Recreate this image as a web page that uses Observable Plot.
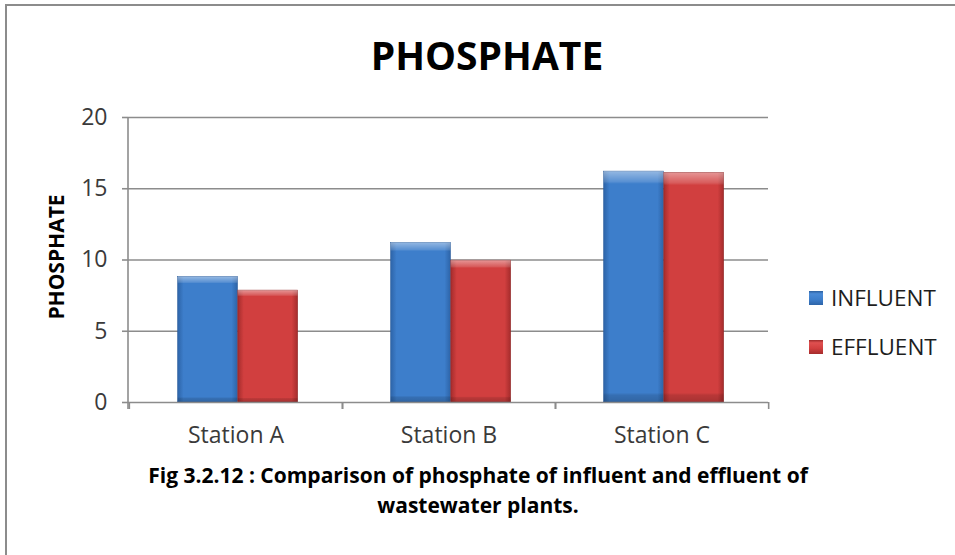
<!DOCTYPE html>
<html>
<head>
<meta charset="utf-8">
<script src="https://cdn.jsdelivr.net/npm/d3@7"></script>
<script src="https://cdn.jsdelivr.net/npm/@observablehq/plot@0.6"></script>
<style>
  body { margin: 0; background: #fff; overflow: hidden; }
  #wrap { position: relative; width: 955px; height: 555px; overflow: hidden; font-family: "Open Sans", sans-serif; color: #000; }
  #border { position: absolute; left: 5px; top: 4px; width: 1000px; height: 600px; border: 2px solid #8c8c8c; box-sizing: border-box; }
  #chart { position: absolute; left: 0; top: 0; }
  .txt { position: absolute; line-height: 1; white-space: nowrap; }
  #title { left: 0; width: 974px; text-align: center; font-weight: 700; font-size: 39px; top: 35px; }
  #ylabel { font-weight: 700; font-size: 21px; left: 56px; top: 257px; transform: translate(-50%, -50%) rotate(-90deg); }
  #legend .item { position: absolute; left: 809px; font-size: 22.5px; line-height: 1; color: #1e1e1e; display: flex; align-items: center; }
  #legend .sw { width: 14px; height: 14px; margin-right: 8px; }
  .cap { left: 0; width: 956px; text-align: center; font-weight: 700; font-size: 21px; }
  #cap1 { top: 465px; }
  #cap2 { top: 494.5px; }
</style>
</head>
<body>
<div id="wrap">
  <div id="border"></div>
  <div id="chart"></div>
  <div id="title" class="txt">PHOSPHATE</div>
  <div id="ylabel" class="txt">PHOSPHATE</div>
  <div id="legend"></div>
  <div id="cap1" class="txt cap">Fig 3.2.12 : Comparison of phosphate of influent and effluent of</div>
  <div id="cap2" class="txt cap">wastewater plants.</div>
</div>
<script>
// ---- data ----
const stations = ["Station A", "Station B", "Station C"];
const seriesNames = ["INFLUENT", "EFFLUENT"];
const influent = [8.8, 11.2, 16.2];
const effluent = [7.85, 9.95, 16.1];
const yTicks = [0, 5, 10, 15, 20];

// ---- layout ----
const W = 955, H = 460;
const mL = 128, mR = 187, mT = 117, mB = 58;
const step = (W - mL - mR) / stations.length;
const gridColor = "#8c8c8c";

const inflRows = stations.map((s, i) => ({station: s, value: influent[i]}));
const efflRows = stations.map((s, i) => ({station: s, value: effluent[i]}));

const svg = Plot.plot({
  width: W, height: H,
  marginLeft: mL, marginRight: mR, marginTop: mT, marginBottom: mB,
  style: {fontFamily: "'Open Sans', sans-serif", fontSize: "23px", color: "#3a3a3a", background: "transparent", overflow: "visible"},
  x: {domain: stations, padding: 0},
  y: {domain: [0, 20]},
  marks: [
    Plot.ruleY(yTicks.filter(t => t > 0), {stroke: gridColor, strokeWidth: 1.6}),
    Plot.barY(inflRows, {x: "station", y: "value", fill: "url(#gBlue)", stroke: "#2b5d9c", strokeWidth: 0.6, insetLeft: step * 0.228, insetRight: step * 0.49}),
    Plot.barY(efflRows, {x: "station", y: "value", fill: "url(#gRed)", stroke: "#8f2626", strokeWidth: 0.6, insetLeft: step * 0.51, insetRight: step * 0.208}),
    Plot.barY(inflRows, {x: "station", y: "value", fill: "url(#gTop)", insetLeft: step * 0.228, insetRight: step * 0.49}),
    Plot.barY(efflRows, {x: "station", y: "value", fill: "url(#gTop)", insetLeft: step * 0.51, insetRight: step * 0.208}),
    Plot.ruleY([0], {stroke: gridColor, strokeWidth: 1.6}),
    Plot.axisY({ticks: yTicks, tickSize: 6, tickPadding: 15, stroke: gridColor, strokeWidth: 1.6, label: null, fill: "#3a3a3a"}),
    Plot.axisX({tickSize: 7, tickFormat: () => "", dx: -step / 2, stroke: gridColor, strokeWidth: 1.6, label: null}),
    Plot.axisX({tickSize: 7, tickFormat: () => "", dx: step / 2, stroke: gridColor, strokeWidth: 1.6, label: null}),
    Plot.axisX({tickSize: 0, tickPadding: 24.5, label: null, fill: "#3a3a3a"})
  ]
});

// gradients (bevel look)
const root = d3.select(svg);
const defs = root.insert("defs", ":first-child");
function hGrad(id, edge, mid) {
  const g = defs.append("linearGradient").attr("id", id).attr("x1", 0).attr("x2", 1).attr("y1", 0).attr("y2", 0);
  [[0, edge], [0.1, mid], [0.9, mid], [1, edge]].forEach(([o, c]) => g.append("stop").attr("offset", o).attr("stop-color", c));
}
hGrad("gBlue", "#2d64a8", "#3d7ecb");
hGrad("gRed", "#a52c2c", "#d13f3f");
const gt = defs.append("linearGradient").attr("id", "gTop").attr("x1", 0).attr("x2", 0).attr("y1", 0).attr("y2", 1);
[[0, "#ffffff", 0.45], [0.045, "#ffffff", 0.15], [0.055, "#ffffff", 0], [0.96, "#000000", 0], [0.97, "#000000", 0.12], [1, "#000000", 0.2]]
  .forEach(([o, c, a]) => gt.append("stop").attr("offset", o).attr("stop-color", c).attr("stop-opacity", a));

// vertical axis line from the y scale
const ys = svg.scale("y");
root.append("line")
  .attr("x1", mL).attr("x2", mL)
  .attr("y1", ys.apply(20)).attr("y2", ys.apply(0) + 7)
  .attr("stroke", gridColor).attr("stroke-width", 1.6);

document.getElementById("chart").appendChild(svg);

// legend
const legendColors = {
  INFLUENT: "linear-gradient(180deg,#2c5f9e 0%,#4a8ad6 20%,#3d7ecb 60%,#2d64a8 100%)",
  EFFLUENT: "linear-gradient(180deg,#9e2b2b 0%,#e05050 20%,#d13f3f 60%,#a52c2c 100%)"
};
const legendTops = [298, 347];
const leg = document.getElementById("legend");
seriesNames.forEach((name, i) => {
  const it = document.createElement("div");
  it.className = "item";
  it.style.top = (legendTops[i] - 11) + "px";
  it.innerHTML = `<span class="sw" style="background:${legendColors[name]}"></span><span>${name}</span>`;
  leg.appendChild(it);
});
</script>
</body>
</html>
